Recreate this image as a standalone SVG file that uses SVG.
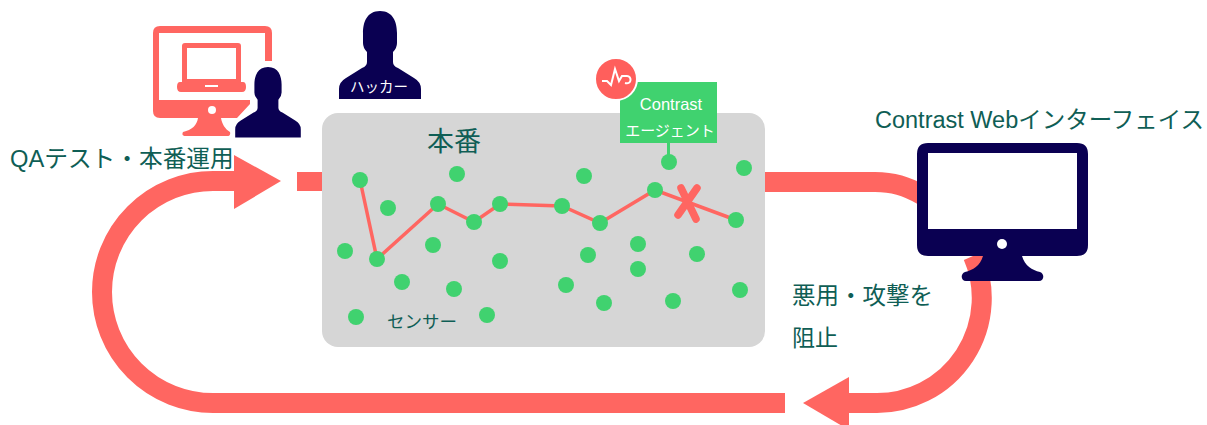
<svg xmlns="http://www.w3.org/2000/svg" width="1207" height="425" viewBox="0 0 1207 425">
<style>
.t{font-family:"Liberation Sans","Noto Sans CJK JP",sans-serif;fill:#0f5e55}
.w{font-family:"Liberation Sans","Noto Sans CJK JP",sans-serif;fill:#fff}
.flow{fill:none;stroke:#ff6661;stroke-width:20}
.s{fill:#40d26f}
.navy{fill:#0a0052}
.red{fill:#ff6661}
.trace{fill:none;stroke:#ff6661;stroke-width:3.5}
</style>
<defs>
<path id="person" d="M380 11C393 11 397 22 397 33V43Q397 48 393 52V62Q393 66 398 68L414 78Q421 82 421 89V99H339V89Q339 82 346 78L362 68Q367 66 367 62V52Q363 48 363 43V33C363 22 367 11 380 11Z"/>
</defs>
<rect width="1207" height="425" fill="#fff"/>
<g id="connectors">
<path class="flow" d="M785 403H213A111 111 0 0 1 213 181H240"/>
<path class="red" d="M234 155L281 181L234 209Z"/>
<rect class="red" x="297" y="172" width="30" height="19"/>
<path class="flow" d="M760 182H875C893 182 906 186 922 195"/>
<path class="flow" d="M973 256A105 105 0 0 1 877 403H840"/>
<path class="red" d="M803 403L849 377V430Z"/>
</g>
<g id="production">
<rect x="322" y="113" width="443" height="234" rx="16" fill="#d6d6d6"/>
<text class="t" x="427" y="151" font-size="27">本番</text>
<text class="t" x="387" y="328" font-size="17.5">センサー</text>
</g>
<g id="trace">
<polyline class="trace" points="360,180 377,259 438,204 474,222 500,204 562,206 600,223 655,190 736,220"/>
<path d="M681 188L696 219M697 188L678 215" fill="none" stroke="#ff6661" stroke-width="7.5" stroke-linecap="round"/>
</g>
<g id="sensors">
<circle class="s" cx="360" cy="180" r="8"/><circle class="s" cx="388" cy="208" r="8"/><circle class="s" cx="457" cy="174" r="8"/><circle class="s" cx="584" cy="176" r="8"/><circle class="s" cx="669" cy="162" r="8"/><circle class="s" cx="744" cy="168" r="8"/>
<circle class="s" cx="438" cy="204" r="8"/><circle class="s" cx="474" cy="222" r="8"/><circle class="s" cx="500" cy="204" r="8"/><circle class="s" cx="562" cy="206" r="8"/><circle class="s" cx="600" cy="223" r="8"/><circle class="s" cx="655" cy="190" r="8"/><circle class="s" cx="736" cy="220" r="8"/>
<circle class="s" cx="345" cy="251" r="8"/><circle class="s" cx="377" cy="259" r="8"/><circle class="s" cx="433" cy="245" r="8"/><circle class="s" cx="500" cy="261" r="8"/><circle class="s" cx="588" cy="255" r="8"/><circle class="s" cx="638" cy="244" r="8"/><circle class="s" cx="638" cy="269" r="8"/><circle class="s" cx="697" cy="254" r="8"/>
<circle class="s" cx="402" cy="282" r="8"/><circle class="s" cx="454" cy="289" r="8"/><circle class="s" cx="566" cy="285" r="8"/><circle class="s" cx="604" cy="303" r="8"/><circle class="s" cx="673" cy="301" r="8"/><circle class="s" cx="740" cy="290" r="8"/><circle class="s" cx="356" cy="317" r="8"/><circle class="s" cx="487" cy="315" r="8"/>
</g>
<g id="agent">
<rect x="667" y="140" width="3" height="16" class="s"/>
<rect x="620" y="82" width="97" height="61" class="s"/>
<text class="w" x="671" y="110" font-size="16.5" text-anchor="middle">Contrast</text>
<text class="w" x="670" y="136" font-size="15" text-anchor="middle">エージェント</text>
<circle cx="616" cy="79" r="21" fill="#ff5f5c" stroke="#fff" stroke-width="2"/>
<path d="M602 81H607L611 85L615 69L619 81L622 76H627C632 76 632 85 625 83" fill="none" stroke="#fff" stroke-width="2"/>
</g>
<g id="qa-user">
<path class="red" fill-rule="evenodd" d="M160 26H265Q272 26 272 33V61H265V33H159V100H250V104L237 118H221C222 124 225 129 230 132Q231 136 227 136H186Q181 136 183 132C192 130 197 125 198 118H160Q153 118 153 111V33Q153 26 160 26Z"/>
<circle cx="212" cy="110" r="4" fill="#fff"/>
<path class="red" fill-rule="evenodd" d="M185 43H238Q241 43 241 46V82H243Q246 82 246 87Q246 92 242 92H181Q177 92 177 87Q177 82 180 82H182V46Q182 43 185 43ZM187 48V79H236V48Z"/>
<rect x="205" y="85" width="13" height="2" fill="#fff"/>
<use class="navy" href="#person" transform="translate(-36 58.2) scale(.8)"/>
</g>
<g id="hacker">
<use class="navy" href="#person"/>
<text class="w" x="379" y="92" font-size="14.5" text-anchor="middle">ハッカー</text>
</g>
<g id="web-ui">
<path class="navy" fill-rule="evenodd" d="M928 143H1077Q1088 143 1088 154V245Q1088 256 1077 256H1022C1025 266 1032 270 1040 272C1045 274 1044 281 1039 281H966C961 281 960 274 965 272C973 270 980 266 983 256H928Q917 256 917 245V154Q917 143 928 143ZM928 153V229H1077V153Z"/>
<circle cx="1002" cy="244" r="5" fill="#fff"/>
<text class="t" x="875" y="128" font-size="23.5">Contrast Webインターフェイス</text>
</g>
<g id="labels">
<text class="t" x="10" y="167" font-size="23.7">QAテスト・本番運用</text>
<text class="t" x="792" y="304" font-size="23.5">悪用・攻撃を</text>
<text class="t" x="792" y="346" font-size="23">阻止</text>
</g>
</svg>
